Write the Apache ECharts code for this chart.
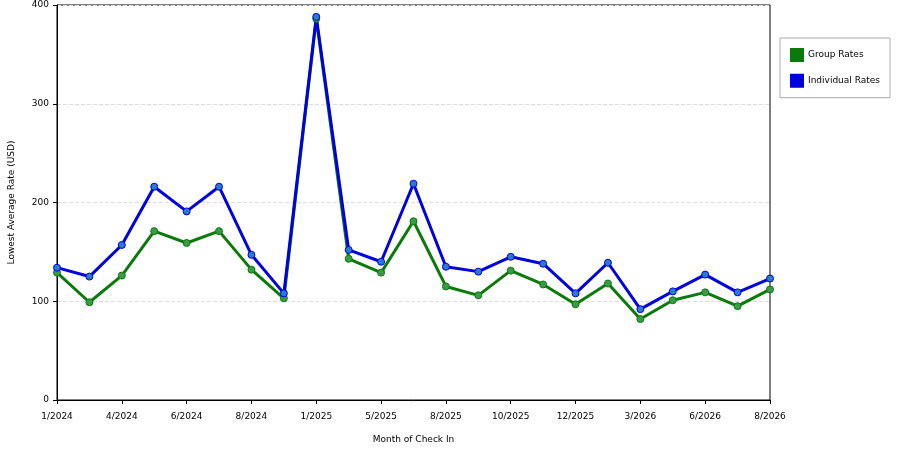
<!DOCTYPE html><html><head><script src="https://cdn.jsdelivr.net/npm/echarts@6/dist/echarts.min.js"></script></head><body style="margin:0"><div id="c" style="width:900px;height:450px"></div><script>
const categories=['1/2024','3/2024','4/2024','5/2024','6/2024','7/2024','8/2024','9/2024','1/2025','3/2025','5/2025','7/2025','8/2025','9/2025','10/2025','11/2025','12/2025','2/2026','3/2026','5/2026','6/2026','7/2026','8/2026'];
const groupRates=[129,99,126,171,159,171,132,103,386,143,129,181,115,106,131,117,97,118,82,101,109,95,112];
const individualRates=[134,125,157,216,191,216,147,108,388,152,140,219,135,130,145,138,108,139,92,110,127,109,123];
const yTicks=[0,100,200,300,400];
const f='Verdana, DejaVu Sans, sans-serif';
function s(name,data,color,mk){return {name,type:'line',data,symbol:'circle',symbolSize:7,lineStyle:{color,width:3},itemStyle:{color:mk,borderColor:color,borderWidth:1},color};}
echarts.init(document.getElementById('c')).setOption({animation:false,
grid:{left:57,right:130,top:5,bottom:50,containLabel:false,outerBoundsMode:'none',show:true,borderColor:'#000',borderWidth:1,backgroundColor:'transparent'},
legend:{orient:'vertical',right:10,top:38,itemWidth:12,itemHeight:12,icon:'rect',borderColor:'#aaa',borderWidth:1,padding:[8,10],itemGap:8,textStyle:{fontSize:9,fontFamily:f,color:'#000'},data:[{name:'Group Rates',itemStyle:{color:'#0a7a0a'}},{name:'Individual Rates',itemStyle:{color:'#0000e0'}}]},
xAxis:{type:'category',boundaryGap:false,data:categories,name:'Month of Check In',nameLocation:'middle',nameGap:26,nameTextStyle:{fontSize:9,fontFamily:f},axisLine:{lineStyle:{color:'#000'}},axisTick:{interval:1,length:4,lineStyle:{color:'#000'}},axisLabel:{interval:1,fontSize:9,fontFamily:f,color:'#000',showMaxLabel:true},splitLine:{show:false}},
yAxis:{type:'value',min:0,max:400,interval:100,name:'Lowest Average Rate (USD)',nameLocation:'middle',nameGap:36,nameTextStyle:{fontSize:9,fontFamily:f},axisLine:{show:true,lineStyle:{color:'#000'}},axisTick:{show:true,length:4},axisLabel:{fontSize:9,fontFamily:f,color:'#000',formatter:v=>yTicks.includes(v)?v:''},splitLine:{lineStyle:{type:'dashed',color:'#ddd'}}},
series:[s('Group Rates',groupRates,'#0a7a0a','#3a9a4a'),s('Individual Rates',individualRates,'#0000e0','#2a7ad0')]
});
</script></body></html>
